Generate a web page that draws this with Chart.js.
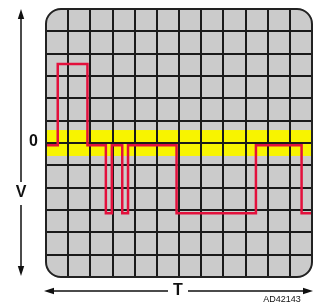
<!DOCTYPE html>
<html>
<head>
<meta charset="utf-8">
<script src="https://cdn.jsdelivr.net/npm/chart.js@4"></script>
<style>
  html, body { margin: 0; padding: 0; background: #fff; }
  canvas { display: block; }
</style>
</head>
<body>
<canvas id="scope" width="313" height="304"></canvas>
<script>
// trace: each level holds from its edge time until the next edge (in divisions)
const edgeTimes = [0, 0.53, 1.87, 2.70, 2.97, 3.44, 3.70, 5.89, 9.47, 11.53, 12]
const levels = [-0.1, 3.54, -0.1, -3.15, -0.1, -3.15, -0.1, -3.15, -0.1, -3.15, -3.15]
// yellow band around zero
const bandLevels = [0.58, -0.58]
const xRange = [0, 12]
const yRange = [-6, 6]
const zeroLabel = '0'
const yLabel = 'V'
const xLabel = 'T'
const figCode = 'AD42143'

const roundRect = (ctx, a, r) => {
  const { left, top, right, bottom } = a
  ctx.beginPath()
  ctx.moveTo(left + r, top)
  ctx.lineTo(right - r, top)
  ctx.arcTo(right, top, right, top + r, r)
  ctx.lineTo(right, bottom - r)
  ctx.arcTo(right, bottom, right - r, bottom, r)
  ctx.lineTo(left + r, bottom)
  ctx.arcTo(left, bottom, left, bottom - r, r)
  ctx.lineTo(left, top + r)
  ctx.arcTo(left, top, left + r, top, r)
  ctx.closePath()
}

const arrowHead = (ctx, tx, ty, dx, dy) => {
  // tip at (tx,ty), pointing along (dx,dy)
  const len = 10, half = 3.2
  const bx = tx - dx * len, by = ty - dy * len
  ctx.beginPath()
  ctx.moveTo(tx, ty)
  ctx.lineTo(bx - dy * half, by + dx * half)
  ctx.lineTo(bx + dy * half, by - dx * half)
  ctx.closePath()
  ctx.fill()
}

const scopeFrame = {
  id: 'scopeFrame',
  beforeDraw(chart) {
    const { ctx, chartArea: a, scales: { y } } = chart
    ctx.save()
    roundRect(ctx, a, 15)
    ctx.clip()
    ctx.fillStyle = '#cbcbcb'
    ctx.fillRect(a.left, a.top, a.width, a.height)
    const y1 = y.getPixelForValue(bandLevels[0])
    const y2 = y.getPixelForValue(bandLevels[1])
    ctx.fillStyle = '#f8f400'
    ctx.fillRect(a.left, y1, a.width, y2 - y1)
  },
  afterDatasetsDraw(chart) {
    const { ctx, chartArea: a } = chart
    ctx.restore()
    ctx.save()
    ctx.strokeStyle = '#222'
    ctx.lineWidth = 2
    roundRect(ctx, a, 15)
    ctx.stroke()
    ctx.restore()
  },
  afterDraw(chart) {
    const { ctx, chartArea: a, scales: { y } } = chart
    ctx.save()
    ctx.fillStyle = '#111'
    ctx.strokeStyle = '#111'
    ctx.lineWidth = 1.5
    ctx.textAlign = 'center'
    ctx.textBaseline = 'middle'
    ctx.font = 'bold 16px "Liberation Sans", Arial, sans-serif'

    // vertical V arrow
    const ax = 21, vy = 193
    ctx.beginPath()
    ctx.moveTo(ax, a.top + 6); ctx.lineTo(ax, vy - 11)
    ctx.moveTo(ax, vy + 12); ctx.lineTo(ax, a.bottom - 8)
    ctx.stroke()
    arrowHead(ctx, ax, a.top, 0, -1)
    arrowHead(ctx, ax, a.bottom - 1, 0, 1)
    ctx.fillText(yLabel, ax, vy)

    // zero marker
    ctx.fillText(zeroLabel, 33.5, y.getPixelForValue(0) - 1)

    // horizontal T arrow
    const hy = 291, tx = 178
    ctx.beginPath()
    ctx.moveTo(a.left + 6, hy); ctx.lineTo(tx - 10, hy)
    ctx.moveTo(tx + 10, hy); ctx.lineTo(a.right - 6, hy)
    ctx.stroke()
    arrowHead(ctx, a.left - 2, hy, -1, 0)
    arrowHead(ctx, a.right + 1, hy, 1, 0)
    ctx.fillText(xLabel, tx, hy)

    ctx.font = '9px "Liberation Sans", Arial, sans-serif'
    ctx.fillText(figCode, 282, 300)
    ctx.restore()
  }
}

const gridOpts = {
  color: '#1a1a1a',
  lineWidth: 2,
  drawTicks: false
}

new Chart(document.getElementById('scope'), {
  type: 'line',
  data: {
    datasets: [{
      data: edgeTimes.map((t, i) => ({ x: t, y: levels[i] })),
      stepped: true,
      borderColor: '#e3103c',
      borderWidth: 2.5,
      pointRadius: 0,
      fill: false,
      clip: false
    }]
  },
  options: {
    responsive: false,
    animation: false,
    events: [],
    layout: { padding: { left: 46, top: 9, right: 1, bottom: 27 } },
    plugins: { legend: { display: false }, tooltip: { enabled: false } },
    scales: {
      x: {
        type: 'linear',
        min: xRange[0], max: xRange[1],
        ticks: { display: false, stepSize: 1 },
        grid: gridOpts,
        border: { display: false }
      },
      y: {
        min: yRange[0], max: yRange[1],
        ticks: { display: false, stepSize: 1 },
        grid: gridOpts,
        border: { display: false }
      }
    }
  },
  plugins: [scopeFrame]
})
</script>
</body>
</html>
